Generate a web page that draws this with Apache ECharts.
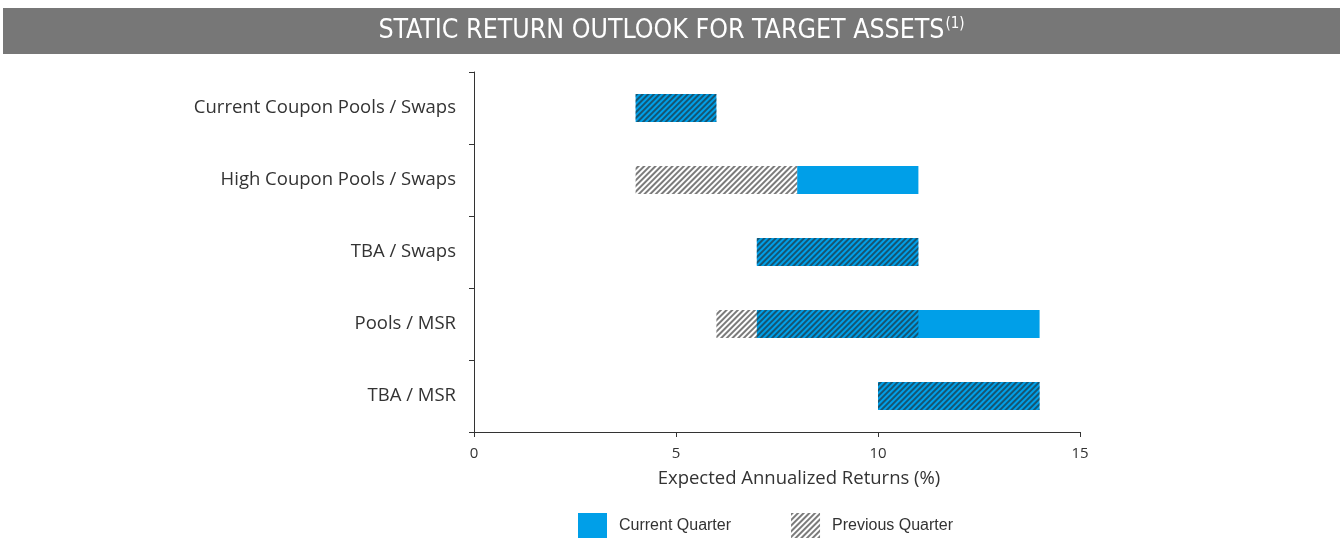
<!DOCTYPE html>
<html>
<head>
<meta charset="utf-8">
<script src="https://cdn.jsdelivr.net/npm/echarts@6/dist/echarts.min.js"></script>
<style>
  html, body { margin: 0; padding: 0; background: #fff; }
  #chart { width: 1343px; height: 540px; }
</style>
</head>
<body>
<div id="chart"></div>
<script>
let categories = ['Current Coupon Pools / Swaps', 'High Coupon Pools / Swaps', 'TBA / Swaps', 'Pools / MSR', 'TBA / MSR'];
let currentLow = [4, 8, 7, 7, 10];
let currentHigh = [6, 11, 11, 14, 14];
let previousLow = [4, 4, 7, 6, 10];
let previousHigh = [6, 8, 11, 11, 14];

let spanOf = (lo, hi) => lo.map((v, i) => hi[i] - v);

// fine "////" hatching, drawn over whatever is underneath
let hatch = {
  symbol: 'rect',
  color: 'rgba(35,35,35,0.6)',
  backgroundColor: null,
  dashArrayX: [1, 0],
  dashArrayY: [2, 2],
  rotation: -Math.PI / 4
};

let chart = echarts.init(document.getElementById('chart'));
let labelFont = '"Open Sans", Lato, sans-serif';
let narrowFont = '"Liberation Sans Narrow", "DejaVu Sans Condensed", sans-serif';

let option = {
  animation: false,
  graphic: [
    {
      type: 'rect',
      shape: { x: 3, y: 8, width: 1337, height: 46 },
      style: { fill: '#777777' }
    },
    {
      type: 'text',
      left: 'center',
      top: 17,
      style: {
        text: '{a|STATIC RETURN OUTLOOK FOR TARGET ASSETS}{s|(1)}',
        rich: {
          a: { fontSize: 26.5, fill: '#ffffff', fontFamily: narrowFont, verticalAlign: 'bottom' },
          s: { fontSize: 15, fill: '#ffffff', fontFamily: narrowFont, padding: [0, 0, 13, 1], verticalAlign: 'bottom' }
        }
      }
    }
  ],
  grid: { left: 474, right: 263, top: 72, bottom: 108, containLabel: false },
  legend: {
    data: ['Current Quarter', 'Previous Quarter'],
    top: 508,
    left: 573,
    icon: 'rect',
    itemWidth: 29,
    itemHeight: 25,
    itemGap: 60,
    textStyle: { fontSize: 16, color: '#333', fontFamily: '"Liberation Sans", Arial, sans-serif', padding: [0, 0, 0, 7] }
  },
  xAxis: {
    type: 'value',
    min: 0,
    max: 15,
    interval: 5,
    name: 'Expected Annualized Returns (%)',
    nameLocation: 'middle',
    nameGap: 37,
    nameTextStyle: { fontSize: 18.5, color: '#333', fontFamily: labelFont, padding: [0, 0, 0, 44] },
    axisLine: { show: true, lineStyle: { color: '#333', width: 1 } },
    axisTick: { show: true, length: 5, lineStyle: { color: '#333' } },
    axisLabel: { fontSize: 15, color: '#333', margin: 14, fontFamily: labelFont },
    splitLine: { show: false }
  },
  yAxis: {
    type: 'category',
    data: categories,
    inverse: true,
    axisLine: { show: true, lineStyle: { color: '#333', width: 1 } },
    axisTick: { show: true, length: 5, lineStyle: { color: '#333' } },
    axisLabel: { fontSize: 18.5, color: '#333', margin: 18, fontFamily: labelFont },
    splitLine: { show: false }
  },
  series: [
    {
      name: 'curBase', type: 'bar', stack: 'cur', barWidth: 28, barGap: '-100%',
      itemStyle: { color: 'rgba(0,0,0,0)' }, silent: true,
      data: currentLow
    },
    {
      name: 'Current Quarter', type: 'bar', stack: 'cur', barWidth: 28, barGap: '-100%',
      itemStyle: { color: '#009fe8' },
      data: spanOf(currentLow, currentHigh)
    },
    {
      name: 'prevBase', type: 'bar', stack: 'prev', barWidth: 28, barGap: '-100%',
      itemStyle: { color: 'rgba(0,0,0,0)' }, silent: true,
      data: previousLow
    },
    {
      name: 'Previous Quarter', type: 'bar', stack: 'prev', barWidth: 28, barGap: '-100%',
      itemStyle: { color: 'rgba(255,255,255,0)', decal: hatch },
      data: spanOf(previousLow, previousHigh)
    }
  ]
};

chart.setOption(option);
</script>
</body>
</html>
